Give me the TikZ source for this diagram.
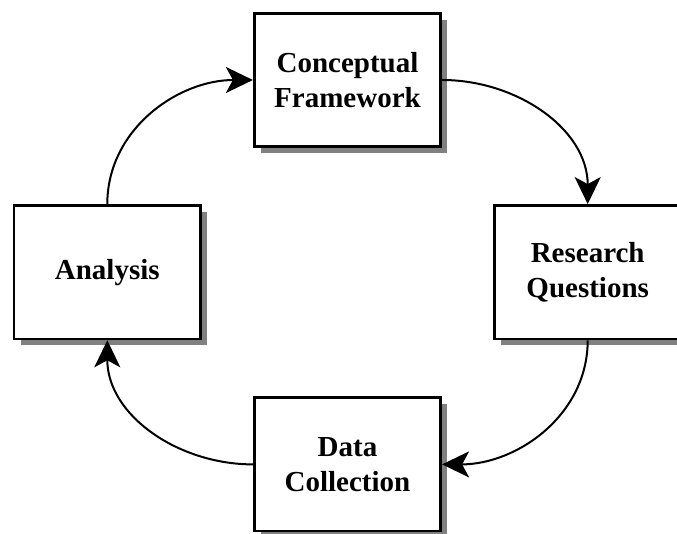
\documentclass[tikz,border=0pt]{standalone}
\usepackage{fontspec}
\setmainfont{Liberation Serif}
\usetikzlibrary{arrows.meta,positioning,shadows}

\begin{document}
\begin{tikzpicture}[x=1pt,y=1pt,auto]

        \tikzstyle{stage}=[draw,shape=rectangle,line width=2.7pt,fill=white,minimum width=186.5pt,minimum height=133.5pt,align=center,font=\fontsize{29}{35}\selectfont\bfseries,drop shadow={shadow xshift=6.5pt,shadow yshift=-6.5pt,fill=black!50,opacity=1}]
        \tikzstyle{flow}=[line width=2pt,-{Stealth[length=27pt,width=26pt,inset=7pt]}]

        \useasboundingbox (0,0) rectangle (677,534);

        \node[stage] (CF) at (347.5,454) {Conceptual\\Framework};
        \node[stage] (RQ) [below right=56pt and 51pt of CF] {Research\\Questions};
        \node[stage] (AN) [below left=56pt and 51pt of CF] {Analysis};
        \node[stage] (DC) [below left=56pt and 51pt of RQ] {Data\\Collection};

        \path [flow] (AN.north) edge[out=90,in=180] (CF.west);
        \path [flow] (CF.east) edge[out=0,in=90] (RQ.north);
        \path [flow] (RQ.south) edge[out=-90,in=0] (DC.east);
        \path [flow] (DC.west) edge[out=180,in=-90] (AN.south);
      \end{tikzpicture}
\end{document}
